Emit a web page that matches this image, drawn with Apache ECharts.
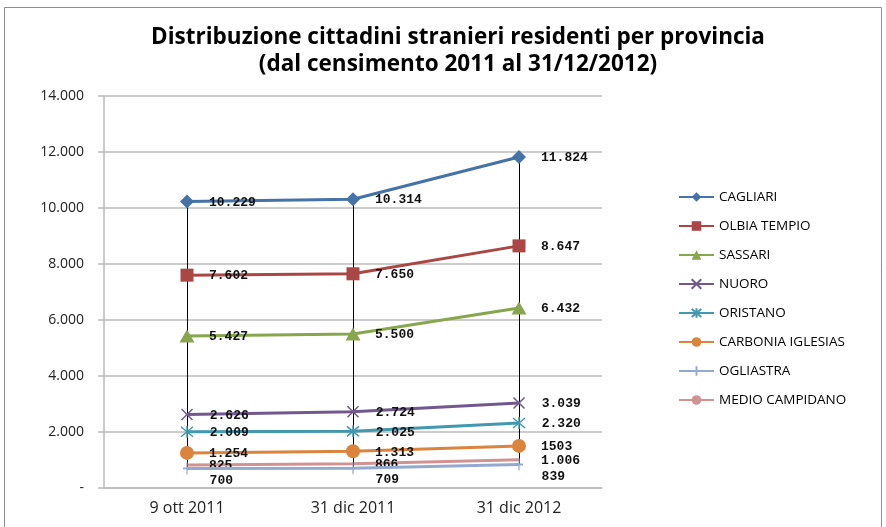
<!DOCTYPE html>
<html><head><meta charset="utf-8">
<script src="https://cdn.jsdelivr.net/npm/echarts@6/dist/echarts.min.js"></script>
<style>html,body{margin:0;padding:0;background:#fff}#c{width:886px;height:527px}</style>
</head><body><div id="c"></div>
<script>
var categories = ['9 ott 2011', '31 dic 2011', '31 dic 2012'];
var seriesNames = ['CAGLIARI','OLBIA TEMPIO','SASSARI','NUORO','ORISTANO','CARBONIA IGLESIAS','OGLIASTRA','MEDIO CAMPIDANO'];
var cagliari = [10229, 10314, 11824];
var olbiaTempio = [7602, 7650, 8647];
var sassari = [5427, 5500, 6432];
var nuoro = [2626, 2724, 3039];
var oristano = [2009, 2025, 2320];
var carboniaIglesias = [1254, 1313, 1503];
var ogliastra = [700, 709, 839];
var medioCampidano = [825, 866, 1006];
var yTickLabels = ['-', '2.000', '4.000', '6.000', '8.000', '10.000', '12.000', '14.000'];

var allData = [cagliari, olbiaTempio, sassari, nuoro, oristano, carboniaIglesias, ogliastra, medioCampidano];
var colors = ['#4572A7','#AA4643','#89A54E','#71588F','#4198AF','#DB843D','#93A9CF','#D19392'];

function fmt(v){ return v >= 1000 ? String(v).replace(/(\d)(?=(\d{3})+$)/g, '$1.') : String(v); }

var symbols = [
  {s:'diamond', size:[14,14], stroke:false},
  {s:'rect', size:13, stroke:false},
  {s:'triangle', size:[15,13], stroke:false},
  {s:'path://M0,0L10,10M10,0L0,10', size:11, stroke:true},
  {s:'path://M0,0L10,10M10,0L0,10M5,-1L5,11', size:12, stroke:true},
  {s:'circle', size:14, stroke:false},
  {s:'path://M0,5L10,5M5,0L5,10', size:[8,12], stroke:true},
  {s:'circle', size:1, stroke:false}
];

var labelFont = {fontFamily:'Liberation Mono', fontWeight:'bold', fontSize:13, color:'#111'};

var series = seriesNames.map(function(name, i){
  var sym = symbols[i];
  var sw = Array.isArray(sym.size) ? sym.size[0] : sym.size;
  var dy = (i === 6) ? 12 : 1;
  var dist = 22 - sw/2;
  return {
    name: name, type: 'line', data: allData[i],
    symbol: sym.s, symbolSize: sym.size, showSymbol: true,
    lineStyle: {color: colors[i], width: 3},
    itemStyle: sym.stroke ? {color: colors[i], borderColor: colors[i], borderWidth: 1.5} : {color: colors[i]},
    label: Object.assign({
      show: true, position: 'right', distance: dist, offset: [0, dy],
      formatter: function(p){ return (i === 5 && p.dataIndex === 2) ? String(p.value) : fmt(p.value); }
    }, labelFont),
    z: 3 + (8 - i),
    animation: false
  };
});

// high-low lines from max to min at each category
var hl = categories.map(function(c, k){
  var vals = allData.map(function(a){ return a[k]; });
  return [{coord:[k, Math.max.apply(null, vals)]}, {coord:[k, Math.min.apply(null, vals)]}];
});
series.push({
  name: 'hl', type: 'line', data: [], z: 1, silent: true, animation: false,
  markLine: {symbol: ['none','none'], silent: true, animation: false, label: {show:false},
    lineStyle: {color:'#000', width: 1, type: 'solid'}, emphasis:{disabled:true}, data: hl}
});

var chart = echarts.init(document.getElementById('c'), null, {renderer:'canvas'});
chart.setOption({
  animation: false,
  backgroundColor: '#fff',
  title: {
    text: 'Distribuzione cittadini stranieri residenti per provincia\n(dal censimento 2011 al 31/12/2012)',
    left: 453, textAlign: 'center', top: 19,
    textStyle: {fontFamily: 'Open Sans', fontWeight: 'bold', fontSize: 22.5, lineHeight: 27, color: '#000'}
  },
  graphic: [{type:'rect', shape:{x:4.5, y:7.5, width:877, height:540}, style:{fill:'none', stroke:'#8c8c8c', lineWidth:1}, silent:true}],
  legend: {
    orient: 'vertical', left: 673, top: 185,
    data: seriesNames,
    itemWidth: 35, itemHeight: 12, itemGap: 15,
    textStyle: {fontFamily: 'Open Sans', fontSize: 13.5, color: '#000'}
  },
  grid: {left: 104, right: 284, top: 96, bottom: 39, containLabel: false},
  xAxis: {
    type: 'category', data: categories, boundaryGap: true,
    axisLine: {lineStyle: {color: '#bbb', width: 1.5}},
    axisTick: {show: false},
    axisLabel: {fontFamily: 'Open Sans', fontSize: 16, color: '#222', margin: 12}
  },
  yAxis: {
    type: 'value', min: 0, max: 14000, interval: 2000,
    axisLine: {show: true, lineStyle: {color: '#bbb', width: 1.5}},
    axisTick: {show: true, length: 6, lineStyle: {color: '#bbb', width: 1.5}},
    splitLine: {lineStyle: {color: '#bbb', width: 1.5}},
    axisLabel: {fontFamily: 'Open Sans', fontSize: 14, color: '#222', margin: 20,
      formatter: function(v){ return yTickLabels[Math.round(v/2000)]; }}
  },
  series: series
});
</script></body></html>
